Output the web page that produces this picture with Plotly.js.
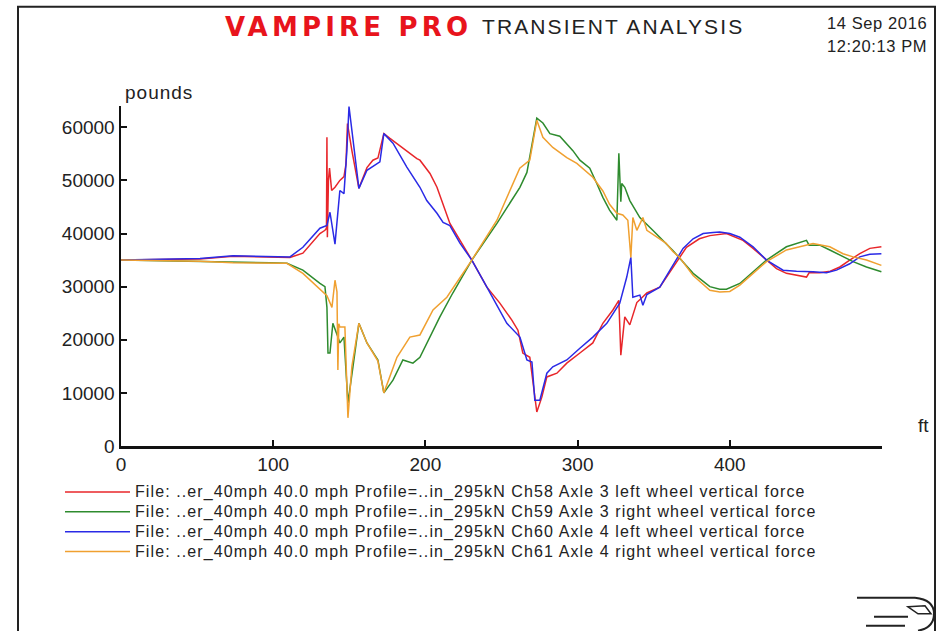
<!DOCTYPE html>
<html>
<head>
<meta charset="utf-8">
<script src="https://cdn.plot.ly/plotly-3.0.1.min.js"></script>
<style>
  html, body { margin: 0; padding: 0; background: #fff; }
  #chart { width: 943px; height: 631px; }
</style>
</head>
<body>
<div id="chart"></div>
<script>
// ---------- data (distance in ft, force in pounds) ----------
const seriesNames = [
  "File: ..er_40mph 40.0 mph Profile=..in_295kN Ch58 Axle 3 left wheel vertical force",
  "File: ..er_40mph 40.0 mph Profile=..in_295kN Ch59 Axle 3 right wheel vertical force",
  "File: ..er_40mph 40.0 mph Profile=..in_295kN Ch60 Axle 4 left wheel vertical force",
  "File: ..er_40mph 40.0 mph Profile=..in_295kN Ch61 Axle 4 right wheel vertical force"
];
const seriesColors = ["#e8262a", "#2e8b2e", "#2a2ae6", "#f0a030"];

const ch58X = [0, 51.9, 73.6, 97.9, 111, 119.5, 130.7, 134, 135, 135.3, 135.6, 136.3, 137, 138.4, 140.6, 143.8, 146.5, 147.8, 148.8, 151.7, 156.3, 161.6, 165.5, 168.8, 172.7, 176.7, 185.2, 194.4, 196.4, 203, 207.6, 211.6, 216.1, 230.5, 240.4, 248.9, 256.8, 260.8, 264, 268.6, 270.6, 273.2, 276.5, 279.8, 286.4, 292.9, 301.5, 310, 316.6, 323.2, 327.1, 328.4, 331, 334.3, 338.9, 345.5, 354, 362.6, 371.5, 380, 386.9, 397.8, 408.7, 415.3, 424.1, 430.7, 437.2, 443.8, 450.4, 452.1, 459.1, 466, 472.3, 478.8, 485.4, 492, 499.6];
const ch58Y = [35000, 35200, 35700, 35600, 35500, 36300, 40000, 40600, 41000, 58100, 39300, 50000, 52300, 48100, 48700, 50000, 50700, 53000, 60700, 55600, 48500, 52400, 53800, 54200, 58800, 57900, 56000, 54100, 53800, 51300, 48700, 45300, 41900, 35000, 29900, 26900, 23700, 21800, 17500, 16700, 12400, 6400, 9200, 13000, 13700, 15600, 17500, 19400, 23100, 25600, 27400, 17100, 24300, 22800, 27000, 28800, 29900, 33700, 37400, 39000, 39600, 40000, 38700, 37200, 35000, 33400, 32500, 32100, 31800, 32600, 32600, 32900, 33700, 35000, 36200, 37200, 37500];

const ch59X = [0, 51.9, 73.6, 97.9, 109, 119.5, 130.7, 134, 135.3, 136, 137.3, 139.2, 142.5, 143.8, 146.5, 149.1, 152.4, 156.3, 161.6, 168.8, 172.7, 178.7, 185.2, 191.8, 196.4, 203, 209.5, 218, 230.5, 247, 262.1, 266.7, 270.6, 273.2, 277.2, 281.8, 288.3, 296.9, 301.5, 308, 312.6, 316.6, 321, 325.8, 327.1, 328.4, 329, 331, 334.3, 340.9, 349.4, 362.6, 375.9, 386.9, 393.4, 397.8, 406.6, 415.3, 424.1, 437.2, 443.8, 450.4, 452.1, 459.1, 465.7, 474.4, 481, 489.8, 499.6];
const ch59Y = [35000, 34800, 34600, 34500, 34400, 33100, 30600, 30000, 26100, 17500, 17500, 23100, 20500, 19400, 20500, 8100, 14900, 23100, 19400, 16200, 10000, 12400, 16200, 15600, 16700, 20500, 24300, 28800, 35000, 41900, 48700, 51500, 58100, 61700, 60800, 58800, 58300, 55600, 53800, 52300, 49400, 46800, 44400, 42500, 55100, 46000, 49400, 48700, 46200, 43000, 40600, 36800, 32500, 30000, 29500, 29500, 30600, 32800, 35000, 37500, 38100, 38700, 37800, 37800, 36900, 35600, 34700, 33700, 32800];

const ch60X = [0, 51.9, 73.6, 97.9, 111, 119.5, 130.7, 135.3, 137.3, 140.6, 143.8, 146.5, 148.4, 149.8, 152.4, 156.3, 161.6, 168.1, 170.1, 172.7, 178.7, 187.8, 196.4, 200.9, 207.6, 211.6, 216.1, 222.7, 230.5, 240.4, 253.5, 262.1, 266.7, 270, 271.9, 275.2, 279.8, 283.7, 292.9, 301.5, 310, 319.2, 327.7, 332.3, 335, 336.3, 340.9, 342.9, 345.5, 354, 362.6, 369.3, 375.9, 382.5, 389, 393.4, 400, 406.6, 415.3, 424.1, 435, 443.8, 454.7, 463.5, 470.1, 478.8, 485.4, 492, 499.6];
const ch60Y = [35000, 35300, 35800, 35600, 35600, 37400, 41000, 41500, 44000, 38000, 48100, 47500, 55600, 63900, 57500, 48500, 51900, 53200, 53500, 58800, 57000, 52500, 48700, 46200, 43800, 42100, 41500, 38200, 35000, 29900, 23100, 20500, 16200, 15800, 8600, 8600, 13700, 14900, 16200, 18400, 20500, 23100, 26900, 31800, 35500, 28000, 28400, 26500, 28500, 29900, 34000, 37200, 39000, 40000, 40200, 40300, 40000, 39300, 37500, 35000, 33100, 32900, 32800, 32600, 33100, 34300, 35600, 36100, 36200];

const ch61X = [0, 51.9, 73.6, 97.9, 109, 119.5, 132.7, 135.3, 138.6, 140.6, 141.9, 142.5, 143.1, 143.8, 147.1, 149.1, 151.7, 156.3, 161.6, 168.8, 172.7, 181.3, 189.8, 196.4, 205, 214.1, 230.5, 247, 262, 268.6, 273.2, 277.2, 283.7, 292.9, 299.5, 310, 316.6, 321, 325.8, 329.7, 333, 335, 336.3, 338.9, 342.9, 345.5, 358, 362.6, 367, 375.9, 386.9, 393.4, 400, 406.6, 415.3, 424.1, 437.2, 448.1, 454.7, 465.7, 474.4, 481, 489.8, 499.6];
const ch61Y = [35000, 34800, 34500, 34500, 34400, 32500, 29000, 28300, 26100, 31200, 29000, 14300, 23000, 22400, 22400, 5300, 15000, 23100, 19400, 16000, 10000, 16700, 20500, 20900, 25600, 28000, 35000, 42500, 52300, 53800, 61300, 58100, 56200, 54300, 53200, 50600, 48000, 45500, 43800, 43500, 42500, 35500, 43000, 40600, 43000, 40600, 38200, 36600, 35500, 32100, 29300, 29000, 29100, 30300, 32500, 34700, 36900, 37700, 38100, 37500, 36200, 35600, 35000, 34000];

const xTickVals = [0, 100, 200, 300, 400];
const yTickVals = [0, 10000, 20000, 30000, 40000, 50000, 60000];
const xRange = [0, 500];
const yRange = [0, 64000];

// ---------- layout helpers (pixel -> paper) ----------
const W = 943, H = 631;
const M = { l: 121, r: 61, t: 105.5, b: 185 };
const PW = W - M.l - M.r, PH = H - M.t - M.b;
const PX = px => (px - M.l) / PW;
const PY = py => (H - M.b - py) / PH;

const xs = [ch58X, ch59X, ch60X, ch61X];
const ys = [ch58Y, ch59Y, ch60Y, ch61Y];
const traces = xs.map((x, i) => ({
  type: "scatter", mode: "lines", x: x, y: ys[i],
  name: '<span style="font-size:16px;letter-spacing:1.1px">' + seriesNames[i] + '</span>',
  line: { color: seriesColors[i], width: 1.5 },
  hoverinfo: "skip"
}));

const FONT = "Liberation Sans, Arial, sans-serif";

const layout = {
  width: W, height: H,
  margin: M,
  paper_bgcolor: "#fff", plot_bgcolor: "#fff",
  font: { family: FONT, color: "#222", size: 18 },
  showlegend: true,
  legend: {
    x: PX(60), y: PY(477), xanchor: "left", yanchor: "top",
    font: { family: FONT, size: 13, color: "#222" },
    itemwidth: 65, tracegroupgap: 0, bgcolor: "rgba(0,0,0,0)"
  },
  xaxis: {
    range: xRange, tickvals: xTickVals, ticktext: xTickVals.map(String),
    showgrid: false, zeroline: false,
    showline: true, linecolor: "#111", linewidth: 2.5,
    ticks: "inside", ticklen: 6, tickwidth: 2, tickcolor: "#111",
    tickfont: { family: FONT, size: 19, color: "#222" }
  },
  yaxis: {
    range: yRange, tickvals: yTickVals, ticktext: yTickVals.map(String),
    showgrid: false, zeroline: false,
    showline: true, linecolor: "#111", linewidth: 2.5,
    ticks: "inside", ticklen: 6, tickwidth: 2, tickcolor: "#111",
    tickfont: { family: FONT, size: 19, color: "#222" }
  },
  annotations: [
    { xref: "paper", yref: "paper", x: PX(474), y: PY(26), xanchor: "right", yanchor: "middle",
      text: '<span style="letter-spacing:4.2px">VAMPIRE PRO</span>', showarrow: false,
      font: { family: "DejaVu Sans, sans-serif", size: 26, color: "#e8141c", weight: "bold" } },
    { xref: "paper", yref: "paper", x: PX(480), y: PY(26), xanchor: "left", yanchor: "middle",
      text: '<span style="letter-spacing:2.1px">TRANSIENT ANALYSIS</span>', showarrow: false,
      font: { family: FONT, size: 21, color: "#222" } },
    { xref: "paper", yref: "paper", x: PX(929), y: PY(22), xanchor: "right", yanchor: "middle",
      text: '<span style="letter-spacing:0.6px">14 Sep 2016</span>', showarrow: false, font: { family: FONT, size: 16.5, color: "#222" } },
    { xref: "paper", yref: "paper", x: PX(929), y: PY(45), xanchor: "right", yanchor: "middle",
      text: '<span style="letter-spacing:0.6px">12:20:13 PM</span>', showarrow: false, font: { family: FONT, size: 16.5, color: "#222" } },
    { xref: "paper", yref: "paper", x: PX(123), y: PY(92), xanchor: "left", yanchor: "middle",
      text: '<span style="letter-spacing:1px">pounds</span>', showarrow: false, font: { family: FONT, size: 19, color: "#222" } },
    { xref: "paper", yref: "paper", x: PX(923), y: PY(425), xanchor: "center", yanchor: "middle",
      text: "ft", showarrow: false, font: { family: FONT, size: 19, color: "#222" } }
  ],
  shapes: [
    // outer frame
    { type: "path", xref: "paper", yref: "paper",
      path: `M ${PX(18)} ${PY(640)} L ${PX(18)} ${PY(6)} L ${PX(935)} ${PY(6)} L ${PX(935)} ${PY(640)}`,
      line: { color: "#222", width: 2 } },
    // logo (bottom right)
    { type: "line", xref: "paper", yref: "paper", x0: PX(857), y0: PY(598), x1: PX(915), y1: PY(598), line: { color: "#222", width: 2 } },
    { type: "line", xref: "paper", yref: "paper", x0: PX(874), y0: PY(617), x1: PX(908), y1: PY(617), line: { color: "#222", width: 2 } },
    { type: "line", xref: "paper", yref: "paper", x0: PX(866), y0: PY(626), x1: PX(905), y1: PY(626), line: { color: "#222", width: 2 } },
    { type: "path", xref: "paper", yref: "paper",
      path: `M ${PX(915)} ${PY(598)} Q ${PX(934)} ${PY(600)} ${PX(934)} ${PY(614)} Q ${PX(934)} ${PY(628)} ${PX(918)} ${PY(631)}`,
      line: { color: "#222", width: 2 } },
    { type: "path", xref: "paper", yref: "paper",
      path: `M ${PX(908)} ${PY(607)} L ${PX(925)} ${PY(606)} L ${PX(931)} ${PY(614)} L ${PX(918)} ${PY(614)} Z`,
      line: { color: "#222", width: 1.5 } }
  ]
};

Plotly.newPlot("chart", traces, layout, { displayModeBar: false, staticPlot: true });
</script>
</body>
</html>
